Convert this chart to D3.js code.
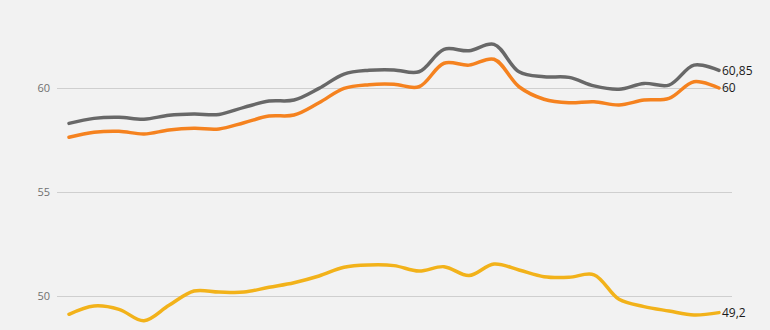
<!DOCTYPE html>
<html>
<head>
<meta charset="utf-8">
<script src="https://cdn.jsdelivr.net/npm/d3@7"></script>
<style>
  html, body { margin: 0; padding: 0; background: #f2f2f2; }
  svg { display: block; }
</style>
</head>
<body>
<svg id="chart" width="770" height="330"></svg>
<script>
const periods = d3.range(27);
const seriesGray = [58.30, 58.54, 58.59, 58.50, 58.69, 58.75, 58.73, 59.07, 59.37, 59.42, 59.98, 60.67, 60.85, 60.87, 60.78, 61.86, 61.79, 62.10, 60.78, 60.54, 60.51, 60.10, 59.94, 60.22, 60.14, 61.10, 60.85];
const seriesOrange = [57.63, 57.87, 57.92, 57.79, 57.98, 58.06, 58.03, 58.33, 58.65, 58.70, 59.29, 59.98, 60.16, 60.18, 60.06, 61.19, 61.10, 61.38, 60.06, 59.46, 59.29, 59.34, 59.18, 59.42, 59.50, 60.30, 60.00];
const seriesYellow = [49.12, 49.52, 49.36, 48.81, 49.55, 50.24, 50.19, 50.19, 50.42, 50.64, 50.96, 51.38, 51.49, 51.46, 51.20, 51.41, 50.98, 51.54, 51.25, 50.93, 50.90, 51.02, 49.84, 49.49, 49.28, 49.09, 49.20];
const endLabels = ["60,85", "60", "49,2"];
const yTicks = [50, 55, 60];

const svg = d3.select("#chart");
const x = d3.scaleLinear().domain([0, 26]).range([69, 719]);
const y = d3.scaleLinear().domain([50, 60]).range([296, 88]);

// gridlines
const grid = d3.axisLeft(y).tickValues(yTicks).tickSize(-675).tickFormat(d => d).tickPadding(7);
const g = svg.append("g").attr("transform", "translate(57,0)").call(grid);
g.select(".domain").remove();
g.selectAll(".tick line").attr("stroke", "#cfcfcf").attr("stroke-width", 1);
g.selectAll(".tick text").attr("fill", "#707070").style("font-family", "'Open Sans', sans-serif").style("font-size", "11px");

const line = d3.line().x((d, i) => x(periods[i])).y(d => y(d)).curve(d3.curveCatmullRom.alpha(0.5));

const series = [
  {vals: seriesGray, color: "#686868", label: endLabels[0]},
  {vals: seriesOrange, color: "#f5821f", label: endLabels[1]},
  {vals: seriesYellow, color: "#f2b21a", label: endLabels[2]}
];

series.forEach(s => {
  svg.append("path")
    .datum(s.vals)
    .attr("fill", "none")
    .attr("stroke", s.color)
    .attr("stroke-width", 3.5)
    .attr("stroke-linecap", "round")
    .attr("d", line);
});

series.forEach(s => {
  const last = s.vals[s.vals.length - 1];
  svg.append("text")
    .attr("x", x(periods[periods.length - 1]) + 3)
    .attr("y", y(last))
    .attr("dy", "0.35em")
    .attr("fill", "#1a1a1a")
    .style("font-family", "'Open Sans', sans-serif")
    .style("font-size", "12px")
    .text(s.label);
});
</script>
</body>
</html>
